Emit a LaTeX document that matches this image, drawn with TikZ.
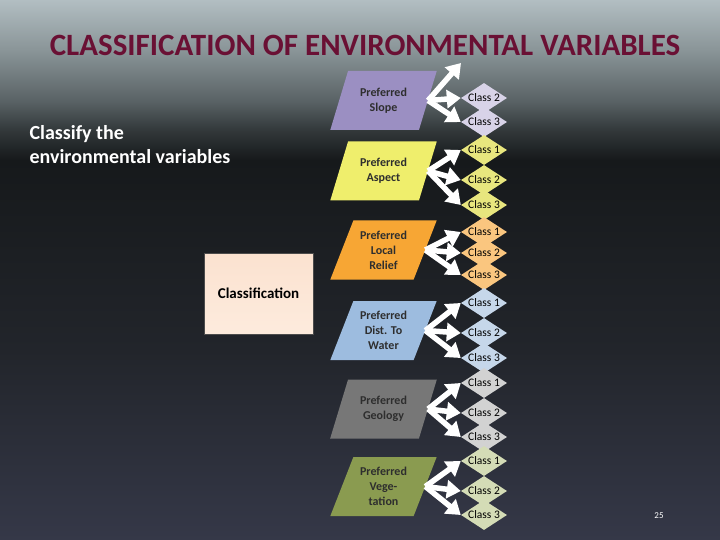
\documentclass[tikz,border=0pt]{standalone}
\usepackage{fontspec}
\setmainfont{Carlito}
\usetikzlibrary{shapes.geometric,arrows.meta}

\definecolor{bgtop}{HTML}{B2BEC2}
\definecolor{bgup}{HTML}{8A9598}
\definecolor{bgmidup}{HTML}{5A6366}
\definecolor{bgshade}{HTML}{33393B}
\definecolor{bgdark}{HTML}{16191B}
\definecolor{bgmid}{HTML}{22252B}
\definecolor{bgbot}{HTML}{353848}
\definecolor{titlered}{HTML}{6A1034}
\definecolor{inktext}{HTML}{2E2E2E}
\definecolor{slopecol}{HTML}{9B8FC2}
\definecolor{slopecls}{HTML}{D8D3E8}
\definecolor{aspectcol}{HTML}{EFEE6C}
\definecolor{aspectcls}{HTML}{E8E67E}
\definecolor{reliefcol}{HTML}{F7A634}
\definecolor{reliefcls}{HTML}{FAC67F}
\definecolor{watercol}{HTML}{9DBCDF}
\definecolor{watercls}{HTML}{C6D7EA}
\definecolor{geocol}{HTML}{777777}
\definecolor{geocls}{HTML}{D2D2D2}
\definecolor{vegcol}{HTML}{8A9B50}
\definecolor{vegcls}{HTML}{D4DCB6}
\definecolor{peachtop}{HTML}{FBE2D0}
\definecolor{peachbot}{HTML}{FDEBDD}

\pgfdeclareverticalshading{slidebg}{100bp}{color(0bp)=(bgbot); color(25bp)=(bgbot); color(42.6bp)=(bgmid); color(60.2bp)=(bgdark); color(63bp)=(bgshade); color(65.7bp)=(bgmidup); color(70.4bp)=(bgup); color(75bp)=(bgtop); color(100bp)=(bgtop)}

\tikzset{
  para/.style={trapezium, trapezium left angle=65, trapezium right angle=115,
    trapezium stretches=true, minimum width=107pt, minimum height=59pt,
    inner sep=0pt, align=center, font=\fontsize{12}{15}\selectfont\bfseries,
    text=inktext},
  cls/.style={diamond, minimum width=46pt, minimum height=30pt, inner sep=0pt},
  clstext/.style={font=\fontsize{11.5}{12}\selectfont, text=black},
  fan/.style={white, line width=5.5pt, -{Triangle[length=14pt,width=18pt]}}
}

\begin{document}
\begin{tikzpicture}[x=1pt,y=-1pt]
    \useasboundingbox (0,0) rectangle (720,540);
    \shade[shading=slidebg] (0,0) rectangle (720,540);

    % Titre
    \node[text=titlered, font=\fontsize{31}{34}\selectfont\bfseries] (title) at (365,45)
      {CLASSIFICATION OF ENVIRONMENTAL VARIABLES};

    \node[text=white, anchor=north west, align=left, font=\fontsize{20}{24}\selectfont\bfseries] (intro) at (26,122)
      {Classify the\\environmental variables};

    % Bloc de classification
    \node[draw=black!70, line width=0.6pt, top color=peachtop, bottom color=peachbot,
      minimum width=109pt, minimum height=81pt,
      font=\fontsize{15}{18}\selectfont\bfseries] (classif) at (258.5,293.5) {Classification};

    % Variables
    \node[para, fill=slopecol] (slope) at (383.5,100.5) {Preferred\\Slope};
    \node[para, fill=aspectcol] (aspect) at (383.5,171) {Preferred\\Aspect};
    \node[para, fill=reliefcol] (relief) at (383.5,250) {Preferred\\Local\\Relief};
    \node[para, fill=watercol] (water) at (383.5,330.5) {Preferred\\Dist. To\\Water};
    \node[para, fill=geocol] (geology) at (383.5,409) {Preferred\\Geology};
    \node[para, fill=vegcol] (veg) at (383.5,486.5) {Preferred\\Vege-\\tation};

    % Classes
    \coordinate (slopeA) at (461,63);
    \node[cls, fill=slopecls, label={[clstext]center:Class 2}] (slopeB) at (484,98) {};
    \node[cls, fill=slopecls, label={[clstext]center:Class 3}] (slopeC) at (484,122) {};

    \node[cls, fill=aspectcls, label={[clstext]center:Class 1}] (aspectA) at (484,150) {};
    \node[cls, fill=aspectcls, label={[clstext]center:Class 2}] (aspectB) at (484,180) {};
    \node[cls, fill=aspectcls, label={[clstext]center:Class 3}] (aspectC) at (484,205) {};

    \node[cls, fill=reliefcls, label={[clstext]center:Class 1}] (reliefA) at (484,232) {};
    \node[cls, fill=reliefcls, label={[clstext]center:Class 2}] (reliefB) at (484,253) {};
    \node[cls, fill=reliefcls, label={[clstext]center:Class 3}] (reliefC) at (484,275) {};

    \node[cls, fill=watercls, label={[clstext]center:Class 1}] (waterA) at (484,303) {};
    \node[cls, fill=watercls, label={[clstext]center:Class 2}] (waterB) at (484,333) {};
    \node[cls, fill=watercls, label={[clstext]center:Class 3}] (waterC) at (484,358) {};

    \node[cls, fill=geocls, label={[clstext]center:Class 1}] (geologyA) at (484,383) {};
    \node[cls, fill=geocls, label={[clstext]center:Class 2}] (geologyB) at (484,413) {};
    \node[cls, fill=geocls, label={[clstext]center:Class 3}] (geologyC) at (484,437) {};

    \node[cls, fill=vegcls, label={[clstext]center:Class 1}] (vegA) at (484,461) {};
    \node[cls, fill=vegcls, label={[clstext]center:Class 2}] (vegB) at (484,491) {};
    \node[cls, fill=vegcls, label={[clstext]center:Class 3}] (vegC) at (484,515) {};

    % Fleches
    \draw[fan] (slope.east) -- (slopeA);
    \draw[fan] (slope.east) -- (slopeB.west);
    \draw[fan] (slope.east) -- (slopeC.west);
    \draw[fan] (aspect.east) -- (aspectA.west);
    \draw[fan] (aspect.east) -- (aspectB.west);
    \draw[fan] (aspect.east) -- (aspectC.west);
    \draw[fan] (relief.east) -- (reliefA.west);
    \draw[fan] (relief.east) -- (reliefB.west);
    \draw[fan] (relief.east) -- (reliefC.west);
    \draw[fan] (water.east) -- (waterA.west);
    \draw[fan] (water.east) -- (waterB.west);
    \draw[fan] (water.east) -- (waterC.west);
    \draw[fan] (geology.east) -- (geologyA.west);
    \draw[fan] (geology.east) -- (geologyB.west);
    \draw[fan] (geology.east) -- (geologyC.west);
    \draw[fan] (veg.east) -- (vegA.west);
    \draw[fan] (veg.east) -- (vegB.west);
    \draw[fan] (veg.east) -- (vegC.west);

    % Numero de page
    \node[text=white, font=\fontsize{9}{10}\selectfont] (pagenum) at (659,516) {25};
\end{tikzpicture}
\end{document}
